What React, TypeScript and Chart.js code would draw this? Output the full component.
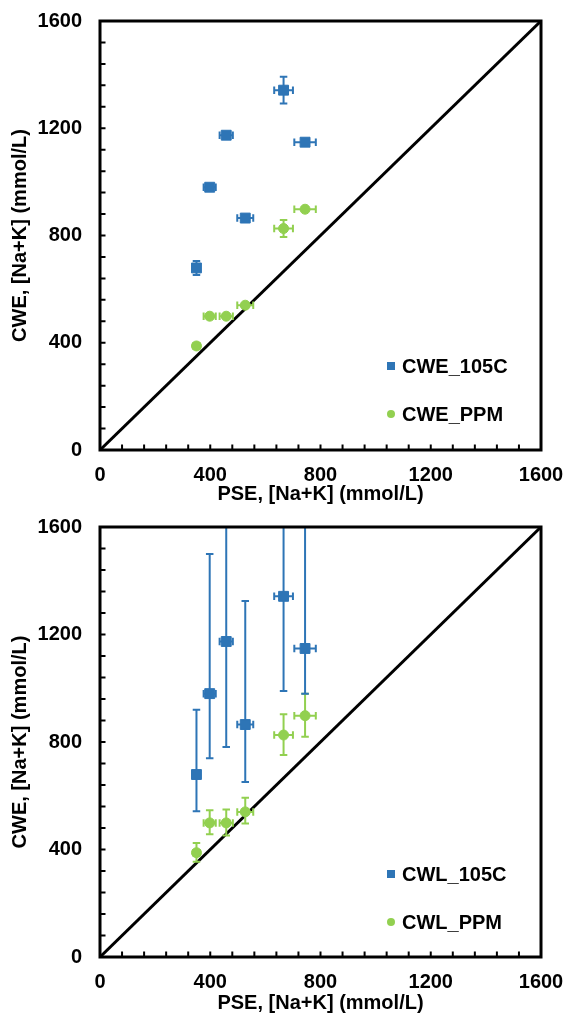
import React, { useEffect, useRef } from "react";
import { Chart, registerables } from "chart.js";

Chart.register(...registerables);

// ---- data ----
const pse = [350, 398, 458, 527, 666, 744];
const pseErr = [12, 22, 24, 29, 34, 39];
const cw105 = [679, 980, 1174, 865, 1342, 1148];
const cwPpm = [388, 499, 499, 540, 826, 898];

// top panel (CWE) vertical error
const cwe105Err = [26, 10, 10, 10, 50, 10];
const cwePpmErr = [8, 8, 8, 8, 32, 8];

// bottom panel (CWL) vertical error (asymmetric)
const cwl105ErrUp = [241, 520, 600, 460, 400, 520];
const cwl105ErrDown = [137, 240, 393, 214, 352, 168];
const cwlPpmErrUp = [36, 47, 50, 53, 77, 82];
const cwlPpmErrDown = [34, 42, 47, 43, 74, 78];

const axisTicks = [0, 400, 800, 1200, 1600];
const minorStep = 80;
const identityLine = [0, 1600];

const xTitle = "PSE, [Na+K] (mmol/L)";
const yTitle = "CWE, [Na+K] (mmol/L)";

const BLUE = "#2E75B6";
const GREEN = "#92D050";
const FONT = "'Liberation Sans', Arial, sans-serif";

const errorBarsPlugin = {
  id: "errorBars",
  beforeDatasetDraw(chart: any, args: any, opts: any) {
    const sets = (opts && opts.sets) || [];
    const set = sets.find((s: any) => s.index === args.index);
    if (!set) return;
    const { ctx, chartArea: a } = chart;
    const xs = chart.scales.x;
    const ys = chart.scales.y;
    const cap = 3.75;
    ctx.save();
    ctx.beginPath();
    ctx.rect(a.left, a.top, a.right - a.left, a.bottom - a.top);
    ctx.clip();
    ctx.strokeStyle = set.color;
    ctx.lineWidth = 2;
    set.x.forEach((xv: number, i: number) => {
      const yv = set.y[i];
      const px = xs.getPixelForValue(xv);
      const py = ys.getPixelForValue(yv);
      const xl = xs.getPixelForValue(xv - set.xErr[i]);
      const xr = xs.getPixelForValue(xv + set.xErr[i]);
      const yt = ys.getPixelForValue(yv + set.yUp[i]);
      const yb = ys.getPixelForValue(yv - set.yDown[i]);
      ctx.beginPath();
      ctx.moveTo(xl, py); ctx.lineTo(xr, py);
      ctx.moveTo(xl, py - cap); ctx.lineTo(xl, py + cap);
      ctx.moveTo(xr, py - cap); ctx.lineTo(xr, py + cap);
      ctx.moveTo(px, yt); ctx.lineTo(px, yb);
      ctx.moveTo(px - cap, yt); ctx.lineTo(px + cap, yt);
      ctx.moveTo(px - cap, yb); ctx.lineTo(px + cap, yb);
      ctx.stroke();
    });
    ctx.restore();
  },
  afterDraw(chart: any) {
    const { ctx, chartArea: a } = chart;
    const xs = chart.scales.x;
    const ys = chart.scales.y;
    ctx.save();
    ctx.strokeStyle = "#000";
    ctx.lineWidth = 2;
    ctx.beginPath();
    for (let v = minorStep; v < 1600; v += minorStep) {
      const px = xs.getPixelForValue(v);
      ctx.moveTo(px, a.bottom);
      ctx.lineTo(px, a.bottom - 5.5);
      const py = ys.getPixelForValue(v);
      ctx.moveTo(a.left, py);
      ctx.lineTo(a.left + 5.5, py);
    }
    ctx.stroke();
    ctx.lineWidth = 3;
    ctx.strokeRect(a.left, a.top, a.right - a.left, a.bottom - a.top);
    ctx.restore();
  },
};

const zeroPadding = (s: any) => {
  s.paddingLeft = 0;
  s.paddingRight = 0;
  s.paddingTop = 0;
  s.paddingBottom = 0;
};

type PanelProps = {
  top: number;
  height: number;
  padTop: number;
  xAxisHeight: number;
  yUp105: number[];
  yDown105: number[];
  yUpPpm: number[];
  yDownPpm: number[];
  label105: string;
  labelPpm: string;
};

function Panel(p: PanelProps) {
  const ref = useRef<HTMLCanvasElement>(null);
  useEffect(() => {
    if (!ref.current) return;
    const tickFont: any = { family: FONT, size: 20, weight: "bold" };
    const chart = new Chart(ref.current, {
      type: "scatter",
      data: {
        datasets: [
          {
            label: p.label105,
            data: pse.map((x, i) => ({ x, y: cw105[i] })),
            backgroundColor: BLUE,
            borderColor: BLUE,
            borderWidth: 1,
            pointStyle: "rect",
            pointRadius: 7,
          },
          {
            label: p.labelPpm,
            data: pse.map((x, i) => ({ x, y: cwPpm[i] })),
            backgroundColor: GREEN,
            borderColor: GREEN,
            borderWidth: 1,
            pointStyle: "circle",
            pointRadius: 5,
          },
          {
            label: "1:1",
            data: identityLine.map((v) => ({ x: v, y: v })),
            showLine: true,
            borderColor: "#000",
            borderWidth: 3,
            pointRadius: 0,
          },
        ],
      } as any,
      options: {
        animation: false,
        responsive: false,
        maintainAspectRatio: false,
        devicePixelRatio: 1,
        layout: { padding: { top: p.padTop, right: 24, left: 0, bottom: 0 } },
        plugins: {
          legend: { display: false },
          tooltip: { enabled: false },
          errorBars: {
            sets: [
              { index: 0, color: BLUE, x: pse, y: cw105, xErr: pseErr, yUp: p.yUp105, yDown: p.yDown105 },
              { index: 1, color: GREEN, x: pse, y: cwPpm, xErr: pseErr, yUp: p.yUpPpm, yDown: p.yDownPpm },
            ],
          },
        } as any,
        scales: {
          x: {
            type: "linear",
            min: 0,
            max: 1600,
            afterBuildTicks: (s: any) => {
              s.ticks = axisTicks.map((v) => ({ value: v }));
            },
            afterFit: (s: any) => {
              s.height = p.xAxisHeight;
              zeroPadding(s);
            },
            ticks: {
              color: "#000",
              font: tickFont,
              padding: 13,
              maxRotation: 0,
              autoSkip: false,
              callback: (v: any) => String(v),
            },
            grid: { display: false, drawTicks: false },
            border: { display: false },
            title: {
              display: true,
              text: xTitle,
              color: "#000",
              font: tickFont,
              padding: { top: 0, bottom: 2 },
            },
          },
          y: {
            type: "linear",
            min: 0,
            max: 1600,
            afterBuildTicks: (s: any) => {
              s.ticks = axisTicks.map((v) => ({ value: v }));
            },
            afterFit: (s: any) => {
              s.width = 100;
              zeroPadding(s);
            },
            ticks: {
              color: "#000",
              font: tickFont,
              padding: 18,
              autoSkip: false,
              callback: (v: any) => String(v),
            },
            grid: { display: false, drawTicks: false },
            border: { display: false },
            title: {
              display: true,
              text: yTitle,
              color: "#000",
              font: tickFont,
              padding: { top: 8, bottom: 0 },
            },
          },
        } as any,
      },
      plugins: [errorBarsPlugin],
    });
    return () => chart.destroy();
  }, []);

  const legendText: React.CSSProperties = {
    position: "absolute",
    left: 402,
    fontFamily: FONT,
    fontWeight: "bold",
    fontSize: 20,
    lineHeight: "24px",
    color: "#000",
    whiteSpace: "nowrap",
  };

  return (
    <div style={{ position: "absolute", left: 0, top: p.top, width: 565, height: p.height }}>
      <canvas ref={ref} width={565} height={p.height} style={{ display: "block", width: 565, height: p.height }} />
      <div style={{ position: "absolute", left: 387, top: 362, width: 8, height: 8, background: BLUE }} />
      <div style={{ ...legendText, top: 354 }}>{p.label105}</div>
      <div style={{ position: "absolute", left: 387, top: 410, width: 8, height: 8, borderRadius: 4, background: GREEN }} />
      <div style={{ ...legendText, top: 402 }}>{p.labelPpm}</div>
    </div>
  );
}

export default function App() {
  return (
    <div style={{ position: "absolute", left: 0, top: 0, width: 565, height: 1017, background: "#fff" }}>
      <Panel
        top={0}
        height={508}
        padTop={21}
        xAxisHeight={58}
        yUp105={cwe105Err}
        yDown105={cwe105Err}
        yUpPpm={cwePpmErr}
        yDownPpm={cwePpmErr}
        label105="CWE_105C"
        labelPpm="CWE_PPM"
      />
      <Panel
        top={508}
        height={509}
        padTop={19}
        xAxisHeight={60}
        yUp105={cwl105ErrUp}
        yDown105={cwl105ErrDown}
        yUpPpm={cwlPpmErrUp}
        yDownPpm={cwlPpmErrDown}
        label105="CWL_105C"
        labelPpm="CWL_PPM"
      />
    </div>
  );
}
